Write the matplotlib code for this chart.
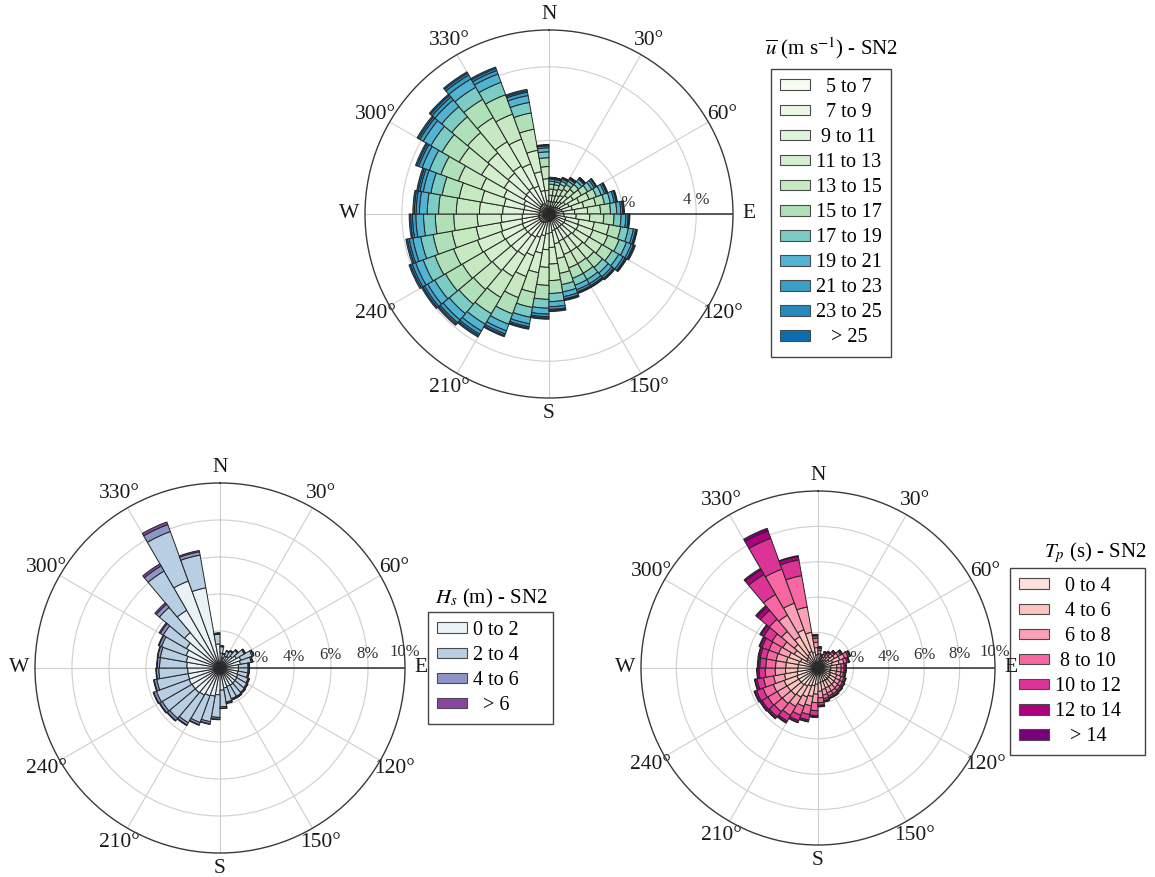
import numpy as np
import matplotlib.pyplot as plt
from matplotlib.patches import Patch

plt.rcParams["font.family"] = ["Liberation Serif", "DejaVu Serif"]
plt.rcParams["mathtext.fontset"] = "stix"

W, H = 1155, 877

# 10 degree direction sectors, centre of each sector (deg clockwise from N)
directions = list(range(5, 360, 10))
compass_labels = ["N", "30°", "60°", "E", "120°", "150°",
                  "S", "210°", "240°", "W", "300°", "330°"]

# mean wind speed (m/s) rose, % per sector and speed bin
u_bins = ["  5 to 7", "  7 to 9", " 9 to 11", "11 to 13", "13 to 15", "15 to 17",
          "17 to 19", "19 to 21", "21 to 23", "23 to 25", "   > 25"]
u_freq = [
    [0.07, 0.12, 0.15, 0.17, 0.17, 0.13, 0.08, 0.06, 0.03, 0.01, 0.01],
    [0.07, 0.12, 0.15, 0.17, 0.17, 0.13, 0.08, 0.06, 0.03, 0.01, 0.01],
    [0.07, 0.13, 0.16, 0.18, 0.18, 0.14, 0.09, 0.06, 0.03, 0.01, 0.01],
    [0.08, 0.14, 0.17, 0.20, 0.19, 0.15, 0.10, 0.06, 0.03, 0.02, 0.01],
    [0.09, 0.16, 0.19, 0.22, 0.22, 0.17, 0.11, 0.08, 0.03, 0.02, 0.01],
    [0.10, 0.18, 0.23, 0.25, 0.26, 0.19, 0.13, 0.08, 0.05, 0.02, 0.01],
    [0.12, 0.20, 0.26, 0.29, 0.29, 0.21, 0.14, 0.10, 0.05, 0.02, 0.02],
    [0.13, 0.23, 0.28, 0.32, 0.33, 0.24, 0.16, 0.11, 0.05, 0.02, 0.02],
    [0.14, 0.25, 0.31, 0.35, 0.35, 0.27, 0.17, 0.11, 0.05, 0.03, 0.02],
    [0.15, 0.26, 0.33, 0.37, 0.38, 0.28, 0.19, 0.13, 0.06, 0.03, 0.02],
    [0.17, 0.29, 0.37, 0.42, 0.41, 0.32, 0.21, 0.14, 0.06, 0.03, 0.02],
    [0.17, 0.30, 0.38, 0.42, 0.43, 0.33, 0.21, 0.14, 0.06, 0.03, 0.03],
    [0.17, 0.29, 0.37, 0.42, 0.41, 0.32, 0.21, 0.14, 0.06, 0.03, 0.02],
    [0.16, 0.28, 0.35, 0.40, 0.40, 0.31, 0.20, 0.13, 0.06, 0.03, 0.02],
    [0.16, 0.28, 0.34, 0.39, 0.39, 0.30, 0.20, 0.13, 0.06, 0.03, 0.02],
    [0.16, 0.28, 0.34, 0.39, 0.39, 0.30, 0.20, 0.13, 0.06, 0.03, 0.02],
    [0.17, 0.29, 0.36, 0.41, 0.41, 0.31, 0.20, 0.13, 0.06, 0.03, 0.02],
    [0.19, 0.32, 0.40, 0.45, 0.45, 0.35, 0.22, 0.14, 0.07, 0.03, 0.03],
    [0.20, 0.34, 0.43, 0.48, 0.49, 0.38, 0.24, 0.16, 0.07, 0.04, 0.03],
    [0.22, 0.38, 0.48, 0.54, 0.55, 0.41, 0.27, 0.18, 0.08, 0.04, 0.03],
    [0.25, 0.43, 0.53, 0.60, 0.61, 0.47, 0.30, 0.19, 0.09, 0.05, 0.03],
    [0.27, 0.46, 0.58, 0.65, 0.66, 0.51, 0.33, 0.21, 0.10, 0.05, 0.04],
    [0.28, 0.47, 0.59, 0.67, 0.67, 0.52, 0.34, 0.22, 0.10, 0.05, 0.04],
    [0.28, 0.48, 0.60, 0.68, 0.68, 0.53, 0.34, 0.22, 0.10, 0.05, 0.04],
    [0.28, 0.49, 0.61, 0.69, 0.69, 0.54, 0.34, 0.22, 0.10, 0.05, 0.04],
    [0.28, 0.47, 0.59, 0.67, 0.67, 0.52, 0.34, 0.22, 0.10, 0.05, 0.04],
    [0.27, 0.46, 0.57, 0.65, 0.64, 0.50, 0.32, 0.21, 0.09, 0.05, 0.04],
    [0.26, 0.44, 0.56, 0.63, 0.63, 0.48, 0.31, 0.21, 0.09, 0.05, 0.04],
    [0.25, 0.44, 0.55, 0.62, 0.62, 0.47, 0.31, 0.21, 0.09, 0.05, 0.04],
    [0.27, 0.46, 0.58, 0.65, 0.66, 0.51, 0.33, 0.21, 0.10, 0.05, 0.04],
    [0.29, 0.50, 0.62, 0.71, 0.70, 0.54, 0.35, 0.24, 0.10, 0.05, 0.04],
    [0.30, 0.51, 0.64, 0.72, 0.72, 0.56, 0.36, 0.24, 0.10, 0.06, 0.04],
    [0.31, 0.53, 0.67, 0.76, 0.76, 0.57, 0.38, 0.26, 0.12, 0.06, 0.04],
    [0.30, 0.51, 0.64, 0.72, 0.72, 0.56, 0.36, 0.24, 0.10, 0.06, 0.04],
    [0.24, 0.41, 0.52, 0.59, 0.58, 0.45, 0.29, 0.19, 0.09, 0.04, 0.04],
    [0.13, 0.23, 0.28, 0.32, 0.33, 0.24, 0.16, 0.11, 0.05, 0.02, 0.02],
]

# significant wave height (m) rose
hs_bins = ["0 to 2     ", "2 to 4     ", "4 to 6     ", "  > 6     "]
hs_freq = [
    [0.80, 0.35, 0.04, 0.01],
    [0.55, 0.22, 0.02, 0.01],
    [0.68, 0.28, 0.03, 0.01],
    [0.72, 0.33, 0.04, 0.01],
    [0.85, 0.39, 0.05, 0.01],
    [1.02, 0.50, 0.06, 0.02],
    [1.20, 0.65, 0.08, 0.02],
    [1.12, 0.59, 0.07, 0.02],
    [1.00, 0.52, 0.06, 0.02],
    [1.00, 0.52, 0.06, 0.02],
    [0.98, 0.54, 0.06, 0.02],
    [1.02, 0.60, 0.06, 0.02],
    [1.05, 0.62, 0.06, 0.02],
    [1.06, 0.66, 0.06, 0.02],
    [1.08, 0.69, 0.06, 0.02],
    [1.06, 0.71, 0.06, 0.02],
    [1.10, 0.76, 0.07, 0.02],
    [1.20, 0.90, 0.08, 0.02],
    [1.45, 1.22, 0.10, 0.03],
    [1.55, 1.40, 0.12, 0.03],
    [1.60, 1.54, 0.13, 0.03],
    [1.70, 1.72, 0.14, 0.04],
    [1.75, 1.81, 0.15, 0.04],
    [1.75, 1.86, 0.15, 0.04],
    [1.78, 1.88, 0.15, 0.04],
    [1.75, 1.72, 0.14, 0.04],
    [1.75, 1.56, 0.13, 0.03],
    [1.80, 1.47, 0.13, 0.03],
    [1.85, 1.43, 0.14, 0.03],
    [1.95, 1.42, 0.14, 0.04],
    [2.10, 1.45, 0.18, 0.07],
    [2.50, 1.78, 0.22, 0.10],
    [3.60, 2.45, 0.32, 0.13],
    [5.00, 2.85, 0.40, 0.15],
    [4.40, 1.80, 0.18, 0.07],
    [1.30, 0.52, 0.06, 0.02],
]

# peak wave period (s) rose
tp_bins = ["  0 to 4   ", "  4 to 6   ", "  6 to 8   ", " 8 to 10   ",
           "10 to 12   ", "12 to 14   ", "   > 14   "]
tp_freq = [
    [0.54, 0.26, 0.18, 0.12, 0.06, 0.03, 0.01],
    [0.36, 0.18, 0.12, 0.08, 0.04, 0.01, 0.01],
    [0.45, 0.22, 0.15, 0.10, 0.05, 0.02, 0.01],
    [0.50, 0.24, 0.16, 0.11, 0.06, 0.02, 0.01],
    [0.58, 0.29, 0.20, 0.13, 0.07, 0.02, 0.01],
    [0.72, 0.35, 0.24, 0.16, 0.08, 0.03, 0.02],
    [0.88, 0.43, 0.29, 0.20, 0.10, 0.04, 0.01],
    [0.81, 0.40, 0.27, 0.18, 0.09, 0.04, 0.01],
    [0.72, 0.35, 0.24, 0.16, 0.08, 0.03, 0.02],
    [0.72, 0.35, 0.24, 0.16, 0.08, 0.03, 0.02],
    [0.70, 0.36, 0.25, 0.16, 0.08, 0.03, 0.02],
    [0.75, 0.38, 0.26, 0.17, 0.09, 0.03, 0.02],
    [0.77, 0.39, 0.26, 0.18, 0.09, 0.04, 0.02],
    [0.79, 0.40, 0.27, 0.18, 0.10, 0.04, 0.02],
    [0.80, 0.41, 0.28, 0.19, 0.10, 0.05, 0.02],
    [0.79, 0.41, 0.29, 0.19, 0.10, 0.05, 0.02],
    [0.80, 0.44, 0.31, 0.21, 0.11, 0.06, 0.02],
    [0.84, 0.48, 0.37, 0.27, 0.15, 0.06, 0.03],
    [0.92, 0.56, 0.48, 0.45, 0.28, 0.08, 0.03],
    [1.02, 0.62, 0.53, 0.50, 0.31, 0.09, 0.03],
    [1.09, 0.66, 0.56, 0.53, 0.33, 0.10, 0.03],
    [1.19, 0.72, 0.61, 0.58, 0.36, 0.10, 0.04],
    [1.24, 0.75, 0.64, 0.60, 0.37, 0.11, 0.04],
    [1.25, 0.76, 0.65, 0.61, 0.38, 0.11, 0.04],
    [1.27, 0.77, 0.65, 0.62, 0.39, 0.11, 0.04],
    [1.20, 0.73, 0.62, 0.58, 0.37, 0.11, 0.04],
    [1.15, 0.69, 0.59, 0.56, 0.34, 0.10, 0.04],
    [1.13, 0.69, 0.58, 0.55, 0.34, 0.10, 0.04],
    [1.12, 0.69, 0.59, 0.56, 0.35, 0.10, 0.04],
    [1.05, 0.70, 0.62, 0.58, 0.42, 0.13, 0.05],
    [0.75, 0.80, 0.75, 0.70, 0.55, 0.18, 0.07],
    [0.80, 0.95, 0.95, 0.90, 0.65, 0.25, 0.10],
    [0.90, 1.15, 1.40, 1.35, 1.30, 0.30, 0.10],
    [1.00, 1.30, 1.60, 2.05, 1.85, 0.45, 0.15],
    [0.90, 1.15, 1.45, 1.80, 0.90, 0.20, 0.05],
    [0.75, 0.40, 0.30, 0.23, 0.14, 0.06, 0.02],
]

u_colors = plt.get_cmap("GnBu")([0.0, 0.06, 0.13, 0.2, 0.27, 0.35, 0.5, 0.62, 0.69, 0.76, 0.86])
hs_colors = plt.get_cmap("BuPu")([0.08, 0.28, 0.5, 0.74])
tp_colors = plt.get_cmap("RdPu")([0.13, 0.25, 0.37, 0.5, 0.625, 0.75, 0.875])


def polar_axes(fig, cx, cy, r):
    # place a polar axes by its centre / radius in output pixels
    return fig.add_axes([(cx - r) / W, 1 - (cy + r) / H, 2 * r / W, 2 * r / H],
                        projection="polar")


def draw_rose(ax, freq, colors, rmax, rlabels, rlabel_text):
    freq = np.array(freq)
    theta = np.deg2rad(directions)
    ax.set_theta_zero_location("N")
    ax.set_theta_direction(-1)
    ax.set_axisbelow(True)

    bottom = np.zeros(len(theta))
    for k in range(freq.shape[1]):
        ax.bar(theta, freq[:, k], width=np.deg2rad(10), bottom=bottom,
               color=colors[k], edgecolor="#262626", linewidth=0.7, zorder=2)
        bottom += freq[:, k]

    ax.plot([np.pi / 2, np.pi / 2], [0, rmax], color="#303030", lw=1.1, zorder=1.5)

    ax.set_ylim(0, rmax)
    ax.set_rgrids([v for v in rlabels if v < rmax], labels=[])
    ax.set_thetagrids(np.arange(0, 360, 30), labels=compass_labels)
    ax.tick_params(axis="x", labelsize=15.5, pad=1, colors="#1a1a1a")
    ax.grid(True, color="#cfcfcf", lw=0.8)
    ax.spines["polar"].set_color("#3a3a3a")
    ax.spines["polar"].set_linewidth(1.0)

    for v in rlabels:
        ax.text(np.deg2rad(87.5), v, rlabel_text.format(v), fontsize=12,
                ha="center", va="bottom", color="#333333", zorder=1.8)


def add_legend(fig, labels, colors, title, title_xy, box_xy, fontsize=14.5):
    handles = [Patch(facecolor=c, edgecolor="#4a4a4a", linewidth=0.8, label=l)
               for c, l in zip(colors, labels)]
    fig.text(title_xy[0] / W, 1 - title_xy[1] / H, title, fontsize=15,
             ha="center", va="center")
    leg = fig.legend(handles=handles, loc="upper left",
                     bbox_to_anchor=(box_xy[0] / W, 1 - box_xy[1] / H),
                     bbox_transform=fig.transFigure, frameon=True, fancybox=False,
                     edgecolor="#444444", framealpha=1, fontsize=fontsize,
                     handlelength=1.5, handleheight=0.45, handletextpad=0.3,
                     labelspacing=0.3, borderpad=0.45, borderaxespad=0)
    # keep compass labels of the roses on top of the legend frame
    leg.set_zorder(-1)


fig = plt.figure(figsize=(W / 100, H / 100), dpi=100)

ax1 = polar_axes(fig, 549, 214, 184)
draw_rose(ax1, u_freq, u_colors, 5.0, [2, 4], "{} %")
add_legend(fig, u_bins, u_colors, r"$\overline{u}$ (m s$^{-1}$) - SN2", (831, 48), (771, 69))

ax2 = polar_axes(fig, 220, 668, 185)
draw_rose(ax2, hs_freq, hs_colors, 10.0, [2, 4, 6, 8, 10], "{}%")
add_legend(fig, hs_bins, hs_colors, r"$H_s$ (m) - SN2", (491, 598), (428, 612))

ax3 = polar_axes(fig, 818, 668, 177)
draw_rose(ax3, tp_freq, tp_colors, 10.0, [2, 4, 6, 8, 10], "{}%")
add_legend(fig, tp_bins, tp_colors, r"$T_p$ (s) - SN2", (1095, 553), (1010, 568))

fig.savefig("out.png", dpi=100)
